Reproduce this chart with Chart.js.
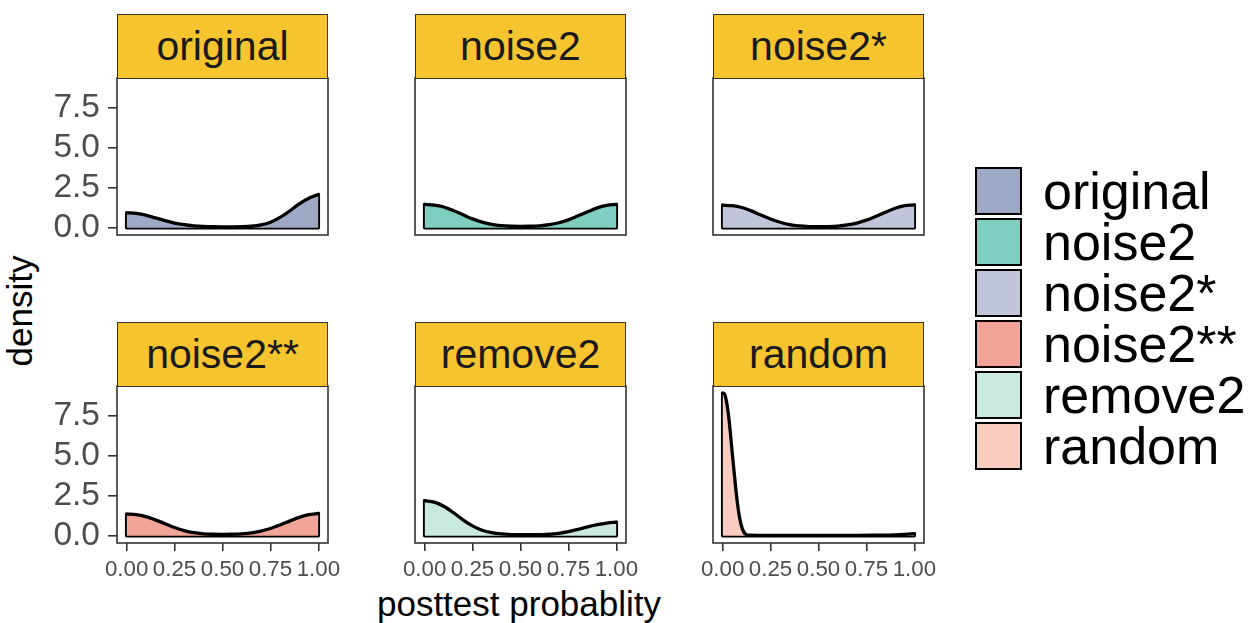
<!DOCTYPE html>
<html>
<head>
<meta charset="utf-8">
<script src="https://cdn.jsdelivr.net/npm/chart.js@4.4.1/dist/chart.umd.min.js"></script>
<style>
  body { margin: 0; background: #fff; width: 1254px; height: 623px; position: relative; overflow: hidden;
         font-family: "Liberation Sans", Arial, sans-serif; }
  .strip { position: absolute; box-sizing: border-box; background: #F6C42F; border: 1.5px solid #333;
           color: #1a1a1a; font-size: 41px; display: flex; align-items: center; justify-content: center; }
  .panel { position: absolute; }
  .ytitle { position: absolute; left: 20px; top: 311px; font-size: 35px; color: #000;
            transform: translate(-50%, -50%) rotate(-90deg); white-space: nowrap; }
  .xtitle { position: absolute; left: 519px; top: 604px; font-size: 35px; color: #000;
            transform: translate(-50%, -50%); white-space: nowrap; }
  .key { position: absolute; left: 975px; width: 47px; height: 48px; box-sizing: border-box; border: 2px solid #000; }
  .keytext { position: absolute; left: 1043px; font-size: 52px; line-height: 51px; color: #000; white-space: nowrap; }
</style>
</head>
<body>
<div class="ytitle">density</div>
<div class="xtitle">posttest probablity</div>
<script>
// facets / groups
const categories = ["original", "noise2", "noise2*", "noise2**", "remove2", "random"];
const fillColors = ["#9CA8C4", "#7ECFC0", "#C0C5DA", "#F2A498", "#C8E8E0", "#F8CDBF"];

// x positions where the density was read
const xGrid = [0, 0.05, 0.1, 0.15, 0.2, 0.25, 0.3, 0.35, 0.4, 0.45, 0.5,
               0.55, 0.6, 0.65, 0.7, 0.75, 0.8, 0.85, 0.9, 0.95, 1];
const randomX = [0, 0.01, 0.02, 0.03, 0.04, 0.05, 0.06, 0.07, 0.08, 0.09, 0.1, 0.11,
                 0.12, 0.14, 0.2, 0.3, 0.4, 0.5, 0.6, 0.7, 0.8, 0.9, 0.95, 1];

// density values
const densOriginal = [0.94, 0.9, 0.8, 0.62, 0.45, 0.3, 0.2, 0.13, 0.09, 0.07, 0.06,
                      0.06, 0.07, 0.1, 0.18, 0.35, 0.65, 1.05, 1.5, 1.85, 2.08];
const densNoise2 = [1.46, 1.42, 1.3, 1.08, 0.82, 0.56, 0.36, 0.22, 0.14, 0.1, 0.09,
                    0.1, 0.13, 0.2, 0.32, 0.5, 0.75, 1.0, 1.25, 1.4, 1.46];
const densNoise2s = [1.41, 1.38, 1.27, 1.06, 0.8, 0.55, 0.35, 0.2, 0.12, 0.08, 0.07,
                     0.08, 0.11, 0.18, 0.3, 0.48, 0.72, 0.98, 1.22, 1.38, 1.43];
const densNoise2ss = [1.36, 1.32, 1.2, 1.0, 0.76, 0.52, 0.33, 0.2, 0.13, 0.1, 0.09,
                      0.1, 0.13, 0.19, 0.3, 0.46, 0.68, 0.92, 1.15, 1.32, 1.4];
const densRemove2 = [2.2, 2.1, 1.85, 1.45, 1.0, 0.62, 0.35, 0.2, 0.12, 0.08, 0.07,
                     0.07, 0.08, 0.1, 0.16, 0.26, 0.4, 0.56, 0.7, 0.8, 0.85];
const densRandom = [8.9, 8.85, 8.4, 7.6, 6.5, 5.2, 4.0, 2.8, 1.8, 1.05, 0.55, 0.25,
                    0.1, 0.04, 0.03, 0.03, 0.03, 0.03, 0.03, 0.03, 0.04, 0.06, 0.09, 0.14];

const xTicks = [0, 0.25, 0.5, 0.75, 1];
const yTicks = [0, 2.5, 5, 7.5];

const seriesX = [xGrid, xGrid, xGrid, xGrid, xGrid, randomX];
const seriesY = [densOriginal, densNoise2, densNoise2s, densNoise2ss, densRemove2, densRandom];

// layout
const colLeft = [117, 415, 713];
const rowStripTop = [14, 322];
const stripH = 64;
const plotW = 211, plotH = 157;
const axisW = 117, axisH = 50, padTop = 5, padRight = 26;

const panelBorder = {
  id: 'panelBorder',
  afterDraw(chart) {
    const a = chart.chartArea, c = chart.ctx;
    c.save();
    c.strokeStyle = '#333';
    c.lineWidth = 1.6;
    c.strokeRect(a.left, a.top, a.right - a.left, a.bottom - a.top);
    c.restore();
  }
};

// legend
categories.forEach((name, i) => {
  const top = 167 + i * 51;
  const k = document.createElement('div');
  k.className = 'key';
  k.style.top = top + 'px';
  k.style.background = fillColors[i];
  document.body.appendChild(k);
  const t = document.createElement('div');
  t.className = 'keytext';
  t.style.top = (top - 1) + 'px';
  t.textContent = name;
  document.body.appendChild(t);
});

categories.forEach((name, i) => {
  const row = Math.floor(i / 3), col = i % 3;
  const stripTop = rowStripTop[row];
  const plotTop = stripTop + stripH;
  const left = colLeft[col];

  const strip = document.createElement('div');
  strip.className = 'strip';
  strip.style.left = left + 'px';
  strip.style.top = stripTop + 'px';
  strip.style.width = plotW + 'px';
  strip.style.height = (stripH + 1) + 'px';
  strip.textContent = name;

  const wrap = document.createElement('div');
  wrap.className = 'panel';
  wrap.style.left = (left - axisW) + 'px';
  wrap.style.top = (plotTop - padTop) + 'px';
  const canvas = document.createElement('canvas');
  canvas.width = axisW + plotW + padRight;
  canvas.height = padTop + plotH + axisH;
  wrap.appendChild(canvas);
  document.body.appendChild(wrap);
  document.body.appendChild(strip);

  const xs = seriesX[i], ys = seriesY[i];
  const curve = xs.map((x, j) => ({ x: x, y: ys[j] }));
  const edges = [
    { x: xs[0], y: ys[0] }, { x: xs[0], y: 0 },
    { x: xs[xs.length - 1], y: 0 }, { x: xs[xs.length - 1], y: ys[ys.length - 1] }
  ];
  const showX = row === 1, showY = col === 0;

  new Chart(canvas, {
    type: 'line',
    data: {
      datasets: [
        { data: curve, fill: 'origin', backgroundColor: fillColors[i], borderColor: '#000',
          borderWidth: 3.3, pointRadius: 0, cubicInterpolationMode: 'monotone',
          borderJoinStyle: 'round', borderCapStyle: 'round' },
        { data: edges, fill: false, borderColor: '#000', borderWidth: 3.3, pointRadius: 0,
          tension: 0, borderJoinStyle: 'round', borderCapStyle: 'round' }
      ]
    },
    options: {
      responsive: false,
      animation: false,
      events: [],
      layout: { padding: { top: padTop, right: padRight, bottom: 0, left: 0 } },
      plugins: { legend: { display: false }, tooltip: { enabled: false } },
      scales: {
        x: {
          type: 'linear', min: -0.05, max: 1.05,
          afterBuildTicks: s => { s.ticks = xTicks.map(v => ({ value: v })); },
          afterFit: s => { s.height = axisH; s.paddingLeft = 0; s.paddingRight = 0; },
          ticks: { display: showX, autoSkip: false, maxRotation: 0, padding: 5, color: '#4d4d4d',
                   font: { family: 'Liberation Sans', size: 22.3 },
                   callback: v => v.toFixed(2) },
          grid: { drawOnChartArea: false, drawTicks: showX, tickLength: 8, color: '#333', lineWidth: 1.6 },
          border: { display: false }
        },
        y: {
          type: 'linear', min: -0.445, max: 9.345,
          afterBuildTicks: s => { s.ticks = yTicks.map(v => ({ value: v })); },
          afterFit: s => { s.width = axisW; s.paddingTop = 0; s.paddingBottom = 0; },
          ticks: { display: showY, padding: 8, color: '#4d4d4d',
                   font: { family: 'Liberation Sans', size: 33.5 },
                   callback: v => v.toFixed(1) },
          grid: { drawOnChartArea: false, drawTicks: showY, tickLength: 9, color: '#333', lineWidth: 1.6 },
          border: { display: false }
        }
      }
    },
    plugins: [panelBorder]
  });
});
</script>
</body>
</html>
